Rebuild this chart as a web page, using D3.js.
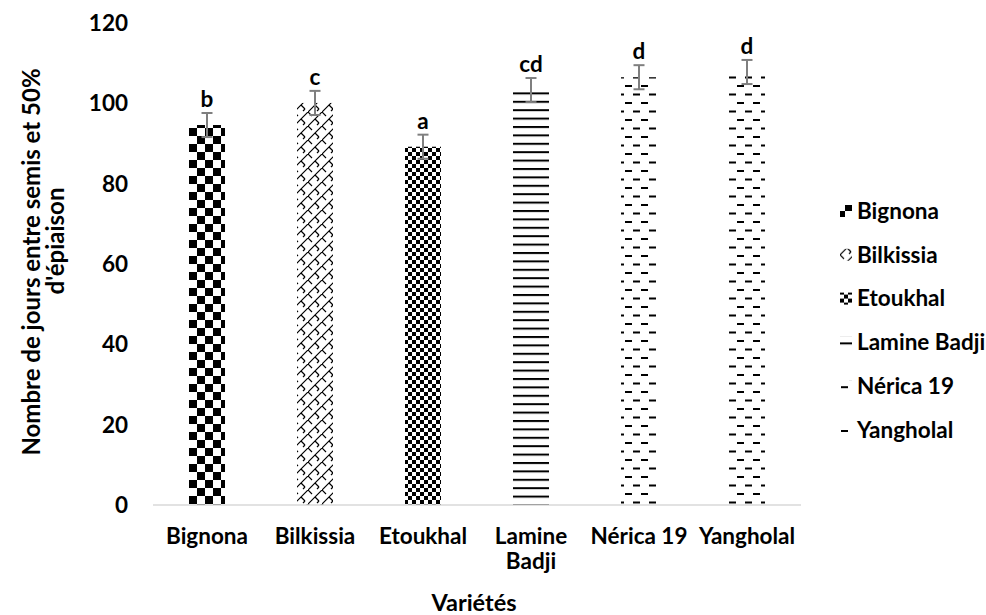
<!DOCTYPE html>
<html>
  <head>
    <meta charset="utf-8">
    <script src="https://d3js.org/d3.v7.min.js"></script>
    <style>
      body { margin: 0; background: #fff; }
      svg text { font-family: Lato, 'Open Sans', sans-serif; font-weight: bold; fill: #000; }
    </style>
  </head>
  <body>
    <svg></svg>
    <script>
      // values
      const varietes = ['Bignona', 'Bilkissia', 'Etoukhal', 'Lamine Badji', 'Nérica 19', 'Yangholal']
      const jours = [94.6, 100.1, 89.2, 103.3, 106.5, 107.8]
      const erreurs = [3, 3, 3, 3, 3, 3]
      const lettres = ['b', 'c', 'a', 'cd', 'd', 'd']
      const xLabels = [['Bignona'], ['Bilkissia'], ['Etoukhal'], ['Lamine', 'Badji'], ['Nérica 19'], ['Yangholal']]
      const yTicks = [0, 20, 40, 60, 80, 100, 120]
      const patternIds = ['bigcheck', 'shingle', 'smallcheck', 'hlines', 'dash1', 'dash2']

      const width = 986
      const height = 615
      const fs = 22.5

      const svg = d3.select('svg')
        .attr('width', width)
        .attr('height', height)

      const defs = svg.append('defs')

      // large checkerboard
      const p1 = defs.append('pattern').attr('id', 'bigcheck')
        .attr('patternUnits', 'userSpaceOnUse').attr('width', 16).attr('height', 16)
        .attr('x', 189).attr('y', 0)
      p1.append('rect').attr('width', 16).attr('height', 16).attr('fill', '#fff')
      p1.append('rect').attr('width', 8).attr('height', 8).attr('fill', '#000')
      p1.append('rect').attr('x', 8).attr('y', 8).attr('width', 8).attr('height', 8).attr('fill', '#000')

      // shingle: diagonals with short cross strokes
      const p2 = defs.append('pattern').attr('id', 'shingle')
        .attr('patternUnits', 'userSpaceOnUse').attr('width', 14).attr('height', 14)
      p2.append('rect').attr('width', 14).attr('height', 14).attr('fill', '#fff')
      p2.append('path').attr('d', 'M0,14 L14,0 M7,7 L11,11 M11,11 L9,13 M0,0 L4,4')
        .attr('stroke', '#000').attr('stroke-width', 1.2).attr('fill', 'none')

      // small checkerboard
      const p3 = defs.append('pattern').attr('id', 'smallcheck')
        .attr('patternUnits', 'userSpaceOnUse').attr('width', 8).attr('height', 8)
      p3.append('rect').attr('width', 8).attr('height', 8).attr('fill', '#fff')
      p3.append('rect').attr('width', 4).attr('height', 4).attr('fill', '#000')
      p3.append('rect').attr('x', 4).attr('y', 4).attr('width', 4).attr('height', 4).attr('fill', '#000')

      // horizontal lines
      const p4 = defs.append('pattern').attr('id', 'hlines')
        .attr('patternUnits', 'userSpaceOnUse').attr('width', 8).attr('height', 8.4)
      p4.append('rect').attr('width', 8).attr('height', 8.4).attr('fill', '#fff')
      p4.append('rect').attr('y', 0).attr('width', 8).attr('height', 2).attr('fill', '#000')

      // dashed horizontals, offset every other row
      ;['dash1', 'dash2'].forEach(id => {
        const p = defs.append('pattern').attr('id', id)
          .attr('patternUnits', 'userSpaceOnUse').attr('width', 16).attr('height', 17)
        p.append('rect').attr('width', 16).attr('height', 17).attr('fill', '#fff')
        p.append('rect').attr('x', 1).attr('y', 0).attr('width', 7).attr('height', 2).attr('fill', '#000')
        p.append('rect').attr('x', 9).attr('y', 8.5).attr('width', 7).attr('height', 2).attr('fill', '#000')
      })

      const x = d3.scaleBand()
        .domain(varietes)
        .range([153, 801])
        .paddingInner(2 / 3)
        .paddingOuter(1 / 3)

      const y = d3.scaleLinear()
        .domain([0, 120])
        .range([505, 23])

      // y tick labels (no axis line, no gridlines)
      svg.selectAll('.ytick')
        .data(yTicks)
        .enter()
        .append('text')
          .attr('class', 'ytick')
          .attr('x', 128)
          .attr('y', d => y(d))
          .attr('dy', '0.35em')
          .attr('text-anchor', 'end')
          .attr('font-size', fs)
          .text(d => d)

      // bars
      svg.selectAll('.bar')
        .data(varietes)
        .enter()
        .append('rect')
          .attr('class', 'bar')
          .attr('x', d => x(d))
          .attr('width', x.bandwidth())
          .attr('y', (d, i) => y(jours[i]))
          .attr('height', (d, i) => y(0) - y(jours[i]))
          .attr('fill', (d, i) => `url(#${patternIds[i]})`)

      // x axis line
      svg.append('line')
        .attr('x1', 153).attr('x2', 801)
        .attr('y1', y(0)).attr('y2', y(0))
        .attr('stroke', '#d9d9d9').attr('stroke-width', 1.5)

      // error bars
      const eb = svg.selectAll('.err')
        .data(varietes)
        .enter()
        .append('g')
          .attr('class', 'err')
          .attr('stroke', '#7f7f7f')
          .attr('stroke-width', 2)
      const cx = d => x(d) + x.bandwidth() / 2
      eb.append('line')
        .attr('x1', cx).attr('x2', cx)
        .attr('y1', (d, i) => y(jours[i] + erreurs[i]))
        .attr('y2', (d, i) => y(jours[i] - erreurs[i]))
      eb.append('line')
        .attr('x1', d => cx(d) - 5.5).attr('x2', d => cx(d) + 5.5)
        .attr('y1', (d, i) => y(jours[i] + erreurs[i]))
        .attr('y2', (d, i) => y(jours[i] + erreurs[i]))
      eb.append('line')
        .attr('x1', d => cx(d) - 5.5).attr('x2', d => cx(d) + 5.5)
        .attr('y1', (d, i) => y(jours[i] - erreurs[i]))
        .attr('y2', (d, i) => y(jours[i] - erreurs[i]))

      // significance letters
      svg.selectAll('.lettre')
        .data(varietes)
        .enter()
        .append('text')
          .attr('class', 'lettre')
          .attr('x', cx)
          .attr('y', (d, i) => y(jours[i] + erreurs[i]) - 6)
          .attr('text-anchor', 'middle')
          .attr('font-size', fs)
          .text((d, i) => lettres[i])

      // category labels
      const xl = svg.selectAll('.xlabel')
        .data(varietes)
        .enter()
        .append('text')
          .attr('class', 'xlabel')
          .attr('text-anchor', 'middle')
          .attr('font-size', fs)
      xl.selectAll('tspan')
        .data((d, i) => xLabels[i].map(t => ({t, c: cx(d)})))
        .enter()
        .append('tspan')
          .attr('x', d => d.c)
          .attr('y', (d, j) => 544 + j * 25)
          .text(d => d.t)

      // axis titles
      svg.append('text')
        .attr('x', 474).attr('y', 611)
        .attr('text-anchor', 'middle')
        .attr('font-size', fs + 1)
        .text('Variétés')

      const yt = svg.append('text')
        .attr('transform', 'rotate(-90)')
        .attr('text-anchor', 'middle')
        .attr('font-size', fs + 1.5)
      yt.append('tspan').attr('x', -262).attr('y', 40).text('Nombre de jours entre semis et 50%')
      yt.append('tspan').attr('x', -241).attr('y', 64).text('d\'épiaison')

      // legend
      const lg = svg.selectAll('.legend')
        .data(varietes)
        .enter()
        .append('g')
          .attr('class', 'legend')
          .attr('transform', (d, i) => `translate(840,${211 + i * 43.8})`)
      lg.append('rect')
        .attr('x', 0).attr('y', -6)
        .attr('width', 12).attr('height', 12)
        .attr('fill', (d, i) => `url(#${patternIds[i]})`)
      lg.append('text')
        .attr('x', 17)
        .attr('dy', '0.35em')
        .attr('font-size', fs)
        .text(d => d)
    </script>
  </body>
</html>
